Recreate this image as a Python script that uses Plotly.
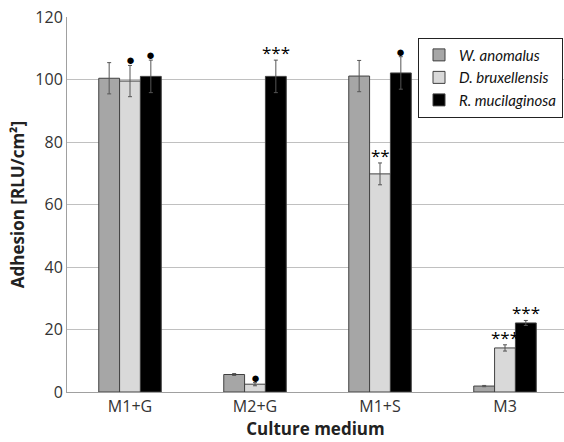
import plotly.graph_objects as go

categories = ["M1+G", "M2+G", "M1+S", "M3"]
series_names = ["W. anomalus", "D. bruxellensis", "R. mucilaginosa"]
w_values = [100.4, 5.6, 101.1, 1.9]
w_errors = [5.0, 0.3, 5.0, 0.2]
d_values = [99.5, 2.5, 69.8, 14.1]
d_errors = [5.0, 0.5, 3.5, 1.0]
r_values = [101.0, 101.0, 102.1, 22.1]
r_errors = [5.2, 5.2, 5.2, 0.8]
colors = ["#a6a6a6", "#d9d9d9", "#000000"]

# significance marks: (series index, category index, label)
marks_series = [1, 2, 1, 2, 1, 2, 1, 2]
marks_cat = [0, 0, 1, 1, 2, 2, 3, 3]
marks_text = ["●", "●", "●", "***", "**", "●", "***", "***"]

values = [w_values, d_values, r_values]
errors = [w_errors, d_errors, r_errors]

FONT = "Open Sans"
fig = go.Figure()
for i in range(3):
    fig.add_trace(go.Bar(
        x=categories, y=values[i], name="<i>" + series_names[i] + "</i>",
        marker=dict(color=colors[i], line=dict(color="#404040", width=1)),
        error_y=dict(type="data", array=errors[i], visible=True,
                     color="#555555", thickness=1, width=2),
    ))

bargap = 0.5
bar_w = (1 - bargap) / 3
annotations = []
for s, c, t in zip(marks_series, marks_cat, marks_text):
    top = values[s][c] + errors[s][c]
    is_dot = t == "●"
    annotations.append(dict(
        x=c + (s - 1) * bar_w, y=top, xref="x", yref="y", text=t,
        showarrow=False, yanchor="bottom", xanchor="center",
        font=dict(family=FONT, size=15 if is_dot else 17, color="#000"),
        yshift=-6,
    ))

fig.update_layout(
    width=564, height=442,
    margin=dict(l=67, r=0, t=17, b=50),
    barmode="group", bargap=bargap, bargroupgap=0,
    plot_bgcolor="white", paper_bgcolor="white",
    font=dict(family=FONT, size=15, color="#333333"),
    xaxis=dict(
        range=[-0.504, 3.472], showline=True, linecolor="#a0a0a0", linewidth=1,
        ticks="", tickfont=dict(size=16, color="#333333"), automargin=False,
        title=dict(text="<b>Culture medium</b>", font=dict(size=17, color="#222222"), standoff=4),
    ),
    yaxis=dict(
        range=[0, 120], dtick=20, showgrid=True, gridcolor="#c0c0c0", gridwidth=1,
        showline=True, linecolor="#a0a0a0", linewidth=1, zeroline=False,
        ticks="", tickfont=dict(size=16, color="#333333"), automargin=False,
        title=dict(text="<b>Adhesion [RLU/cm²]</b>", font=dict(size=17, color="#222222"), standoff=6),
    ),
    legend=dict(
        x=0.998, y=0.945, xanchor="right", yanchor="top",
        bordercolor="#222222", borderwidth=1, bgcolor="white",
        font=dict(family="Lato", size=15, color="#111111"),
        itemwidth=30,
    ),
    annotations=annotations,
    showlegend=True,
)

fig.write_html("out.html", config={"displayModeBar": False},
               post_script="document.body.style.margin='0';")
